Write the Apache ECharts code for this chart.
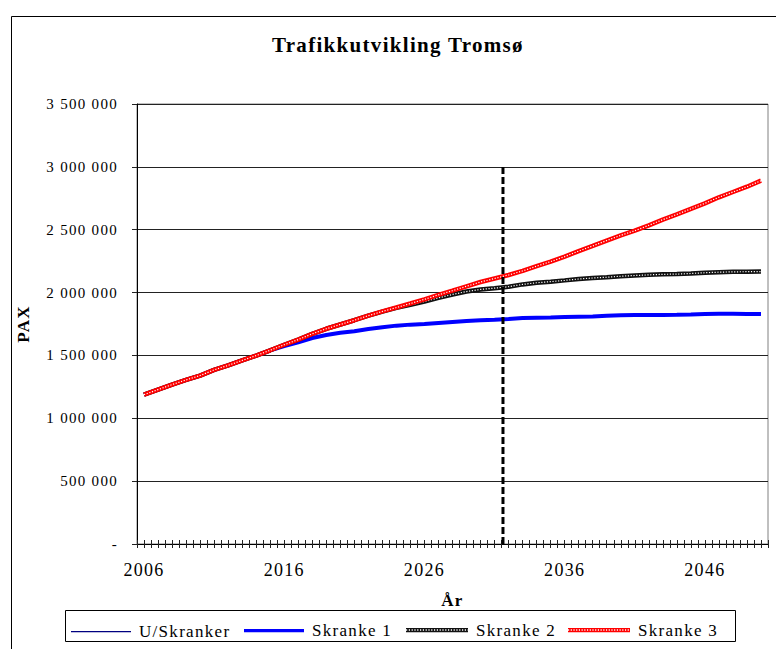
<!DOCTYPE html>
<html>
<head>
<meta charset="utf-8">
<script src="https://cdn.jsdelivr.net/npm/echarts@6/dist/echarts.min.js"></script>
<style>
  html, body { margin: 0; padding: 0; background: #fff; }
  #chart { width: 776px; height: 649px; }
  #chart text { letter-spacing: 1.3px; font-family: "Liberation Serif", "Times New Roman", serif !important; }
</style>
</head>
<body>
<div id="chart"></div>
<script>
// ---- Data ----
const years = [2006, 2007, 2008, 2009, 2010, 2011, 2012, 2013, 2014, 2015,
  2016, 2017, 2018, 2019, 2020, 2021, 2022, 2023, 2024, 2025,
  2026, 2027, 2028, 2029, 2030, 2031, 2032, 2033, 2034, 2035,
  2036, 2037, 2038, 2039, 2040, 2041, 2042, 2043, 2044, 2045,
  2046, 2047, 2048, 2049, 2050];

const uSkranker = [1188000, 1228000, 1268000, 1305000, 1340000, 1385000, 1421000, 1460000, 1499000, 1541000,
  1585000, 1626000, 1672000, 1712000, 1746000, 1780000, 1816000, 1850000, 1881000, 1913000,
  1946000, 1982000, 2015000, 2050000, 2084000, 2112000, 2140000, 2172000, 2210000, 2246000,
  2286000, 2330000, 2371000, 2414000, 2455000, 2492000, 2535000, 2580000, 2622000, 2666000,
  2710000, 2758000, 2800000, 2842000, 2890000];

const skranke1 = [1188000, 1228000, 1268000, 1305000, 1340000, 1385000, 1421000, 1460000, 1499000, 1541000,
  1575000, 1605000, 1638000, 1662000, 1680000, 1692000, 1710000, 1725000, 1737000, 1745000,
  1750000, 1758000, 1766000, 1774000, 1779000, 1784000, 1790000, 1797000, 1800000, 1801000,
  1806000, 1808000, 1810000, 1815000, 1820000, 1822000, 1822000, 1822000, 1823000, 1826000,
  1830000, 1831000, 1831000, 1830000, 1829000];

const skranke2 = [1188000, 1228000, 1268000, 1305000, 1340000, 1385000, 1421000, 1460000, 1499000, 1541000,
  1585000, 1626000, 1672000, 1712000, 1746000, 1780000, 1816000, 1849000, 1878000, 1903000,
  1929000, 1958000, 1985000, 2008000, 2025000, 2035000, 2047000, 2065000, 2078000, 2087000,
  2097000, 2108000, 2116000, 2122000, 2130000, 2136000, 2141000, 2145000, 2147000, 2152000,
  2158000, 2162000, 2165000, 2166000, 2167000];

const skranke3 = [1188000, 1228000, 1268000, 1305000, 1340000, 1385000, 1421000, 1460000, 1499000, 1541000,
  1585000, 1626000, 1672000, 1712000, 1746000, 1780000, 1816000, 1850000, 1881000, 1913000,
  1946000, 1982000, 2015000, 2050000, 2084000, 2112000, 2140000, 2172000, 2210000, 2246000,
  2286000, 2330000, 2371000, 2414000, 2455000, 2492000, 2535000, 2580000, 2622000, 2666000,
  2710000, 2758000, 2800000, 2842000, 2890000];

// Vertical dashed marker line (x position in years, y extent)
const markerX = [2031.6, 2031.6];
const markerY = [0, 3020000];

const xLabelYears = [2006, 2016, 2026, 2036, 2046];
const yTickValues = [0, 500000, 1000000, 1500000, 2000000, 2500000, 3000000, 3500000];
const seriesNames = ['U/Skranker', 'Skranke 1', 'Skranke 2', 'Skranke 3'];

// ---- Helpers ----
const pairs = (arr) => years.map((y, i) => [y, arr[i]]);
const fmtY = (v) => v === 0 ? '-' : String(v).replace(/\B(?=(\d{3})+(?!\d))/g, ' ');
const FONT = 'Liberation Serif';

function svgIcon(w, h, color, dotColor) {
  let s = "<svg xmlns='http://www.w3.org/2000/svg' width='" + w + "' height='" + h + "'>" +
    "<rect x='0' y='0' width='" + w + "' height='" + h + "' fill='" + color + "'/>";
  if (dotColor) {
    s += "<line x1='0' y1='" + (h / 2) + "' x2='" + w + "' y2='" + (h / 2) +
      "' stroke='" + dotColor + "' stroke-width='1.3' stroke-dasharray='1.2 1.6'/>";
  }
  s += "</svg>";
  return 'image://data:image/svg+xml;charset=utf-8,' + encodeURIComponent(s);
}

const legendDefs = [
  { name: seriesNames[0], left: 71, h: 2, icon: svgIcon(60, 2, '#000080') },
  { name: seriesNames[1], left: 244, h: 4, icon: svgIcon(60, 4, '#0000ff') },
  { name: seriesNames[2], left: 406, h: 5, icon: svgIcon(62, 5, '#111111', '#ffffff') },
  { name: seriesNames[3], left: 568, h: 5, icon: svgIcon(64, 5, '#ff0000', '#ffffff') }
];

const chart = echarts.init(document.getElementById('chart'), null, { renderer: 'svg' });

const baseLine = (name, data, color, width, z) => ({
  name: name, type: 'line', data: data, symbol: 'none', silent: true, z: z,
  lineStyle: { color: color, width: width }, itemStyle: { color: color },
  emphasis: { disabled: true }
});

const option = {
  animation: false,
  backgroundColor: '#ffffff',
  textStyle: { fontFamily: FONT },
  title: {
    text: 'Trafikkutvikling Tromsø',
    left: 272, top: 34, padding: 0,
    textStyle: { fontFamily: FONT, fontSize: 21, fontWeight: 'bold', color: '#000' }
  },
  grid: {
    left: 137, right: 8, top: 104, bottom: 105,
    show: true, borderColor: '#808080', borderWidth: 1, backgroundColor: 'transparent'
  },
  legend: legendDefs.map((d, i) => ({
    data: [{ name: d.name, icon: d.icon }],
    left: d.left, top: 624 - d.h / 2, padding: 0, itemGap: 0,
    itemWidth: i >= 2 ? 62 : 60, itemHeight: d.h, selectedMode: false,
    textStyle: { fontFamily: FONT, fontSize: 17, color: '#000', padding: [0, 0, 0, 3] }
  })),
  xAxis: [{
    type: 'value', min: 2005.5, max: 2050.5, interval: 0.5,
    axisLine: { show: true, onZero: false, lineStyle: { color: '#000', width: 1 } },
    axisTick: { show: true, inside: false, length: 4, lineStyle: { color: '#222' } },
    axisLabel: {
      margin: 17, fontFamily: FONT, fontSize: 18, color: '#000',
      formatter: (v) => xLabelYears.includes(v) ? String(v) : ''
    },
    splitLine: { show: false },
    name: 'År', nameLocation: 'middle', nameGap: 48,
    nameTextStyle: { fontFamily: FONT, fontSize: 17, fontWeight: 'bold', color: '#000' }
  }, {
    type: 'value', min: 2005.5, max: 2050.5, interval: 0.5, position: 'bottom',
    axisLine: { show: false },
    axisTick: { show: true, inside: true, length: 4, lineStyle: { color: '#222' } },
    axisLabel: { show: false },
    splitLine: { show: false }
  }],
  yAxis: {
    type: 'value', min: yTickValues[0], max: yTickValues[yTickValues.length - 1], interval: 500000,
    axisLine: { show: true, lineStyle: { color: '#000', width: 1 } },
    axisTick: { show: true, inside: false, length: 5, lineStyle: { color: '#222' } },
    axisLabel: { margin: 19, fontFamily: FONT, fontSize: 15, color: '#000', formatter: fmtY },
    splitLine: { show: true, lineStyle: { color: '#222', width: 1 } },
    name: 'PAX', nameLocation: 'middle', nameGap: 105, nameRotate: 90,
    nameTextStyle: { fontFamily: FONT, fontSize: 17, fontWeight: 'bold', color: '#000' }
  },
  series: [
    baseLine(seriesNames[0], pairs(uSkranker), '#000080', 1, 2),
    baseLine(seriesNames[1], pairs(skranke1), '#0000ff', 4, 3),
    baseLine(seriesNames[2], pairs(skranke2), '#111111', 4.5, 4),
    Object.assign(baseLine('s2dots', pairs(skranke2), '#ffffff', 1.2, 5),
      { lineStyle: { color: '#ffffff', width: 1.2, type: [1.2, 1.6] } }),
    baseLine(seriesNames[3], pairs(skranke3), '#ff0000', 4.5, 6),
    Object.assign(baseLine('s3dots', pairs(skranke3), '#ffffff', 1.2, 7),
      { lineStyle: { color: '#ffffff', width: 1.2, type: [1.2, 1.6] } }),
    Object.assign(baseLine('marker', markerX.map((x, i) => [x, markerY[i]]), '#000', 3, 8),
      { lineStyle: { color: '#000', width: 3, type: [7, 3] } })
  ],
  graphic: [
    { type: 'rect', left: 9, top: 14, z: -1, silent: true,
      shape: { width: 800, height: 700 },
      style: { fill: 'none', stroke: '#000', lineWidth: 1 } },
    { type: 'rect', left: 63, top: 608, z: 0, silent: true,
      shape: { width: 670, height: 31 },
      style: { fill: 'none', stroke: '#000', lineWidth: 1 } }
  ]
};

chart.setOption(option);
</script>
</body>
</html>
